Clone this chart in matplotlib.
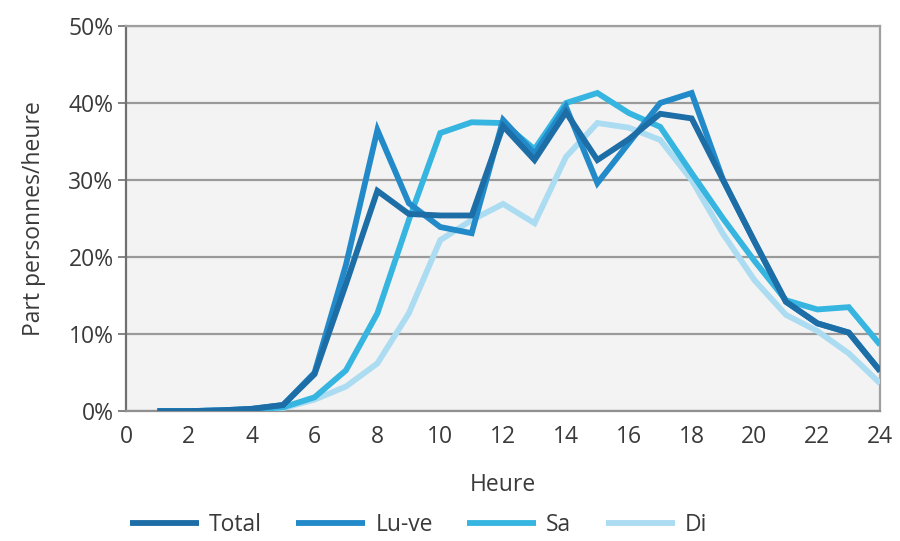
import numpy as np
import matplotlib.pyplot as plt
from matplotlib.ticker import FuncFormatter

plt.rcParams['font.family'] = ['Open Sans', 'DejaVu Sans']

heures = list(range(1, 25))
total = [0.0, 0.0, 0.1, 0.3, 0.8, 4.8, 16.5, 28.6, 25.6, 25.4, 25.4, 37.0,
         32.6, 38.8, 32.6, 35.3, 38.6, 38.0, 30.0, 22.0, 14.2, 11.4, 10.2, 5.2]
luve = [0.0, 0.0, 0.1, 0.3, 0.8, 5.0, 19.0, 36.5, 27.0, 23.9, 23.1, 37.8,
        33.4, 39.5, 29.6, 34.8, 40.0, 41.3, 30.0, 22.0, 14.2, 11.4, 10.2, 5.2]
sa = [0.0, 0.0, 0.1, 0.2, 0.5, 1.8, 5.3, 12.7, 24.8, 36.1, 37.5, 37.4,
      34.0, 40.0, 41.3, 38.7, 36.9, 30.9, 25.0, 19.5, 14.4, 13.2, 13.5, 8.6]
di = [0.0, 0.0, 0.1, 0.2, 0.4, 1.5, 3.2, 6.2, 12.7, 22.2, 24.8, 26.9,
      24.4, 33.0, 37.4, 36.8, 35.2, 30.0, 23.0, 17.0, 12.5, 10.4, 7.5, 3.6]

noms = ['Total', 'Lu-ve', 'Sa', 'Di']
couleurs = ['#1d6da6', '#238ac9', '#35b5df', '#acdcf1']
txt = '#3a3a3a'
fs = 16.5

fig = plt.figure(figsize=(9, 5.41), dpi=100)
ax = fig.add_axes([0.14, 0.24, 0.838, 0.712])
ax.set_facecolor('#f3f3f3')

series = [total, luve, sa, di]
lignes = {}
# Di drawn first, Total last (on top)
for i in [3, 2, 1, 0]:
    ln, = ax.plot(heures, series[i], color=couleurs[i], lw=4.2,
                  solid_capstyle='butt', solid_joinstyle='miter', zorder=3 + (3 - i))
    lignes[i] = ln
handles = [lignes[i] for i in range(4)]

ax.set_xlim(0, 24)
ax.set_ylim(0, 50)
ax.set_xticks(range(0, 25, 2))
ax.set_yticks(range(0, 51, 10))
ax.yaxis.set_major_formatter(FuncFormatter(lambda v, p: f'{int(v)}%'))
ax.yaxis.grid(True, color='#9a9a9a', lw=1.6)
ax.set_axisbelow(True)

for s in ['top', 'right']:
    ax.spines[s].set_color('#a0a0a0')
    ax.spines[s].set_linewidth(1.6)
ax.spines['left'].set_color('#707070')
ax.spines['left'].set_linewidth(1.6)
ax.spines['bottom'].set_color('#909090')
ax.spines['bottom'].set_linewidth(1.6)

ax.tick_params(axis='y', length=6, width=1.2, color='#707070', labelsize=fs,
               labelcolor=txt, pad=3)
ax.tick_params(axis='x', length=0, labelsize=fs, labelcolor=txt, pad=10)

ax.set_xlabel('Heure', fontsize=fs, color=txt, labelpad=17)
ax.set_ylabel('Part personnes/heure', fontsize=fs, color=txt, labelpad=16)

fig.legend(handles, noms, loc='lower center', bbox_to_anchor=(0.465, -0.03),
           ncol=4, frameon=False, fontsize=fs, handlelength=3.0,
           columnspacing=1.5, handletextpad=0.45, labelcolor=txt)

fig.savefig('out.png', dpi=100)
